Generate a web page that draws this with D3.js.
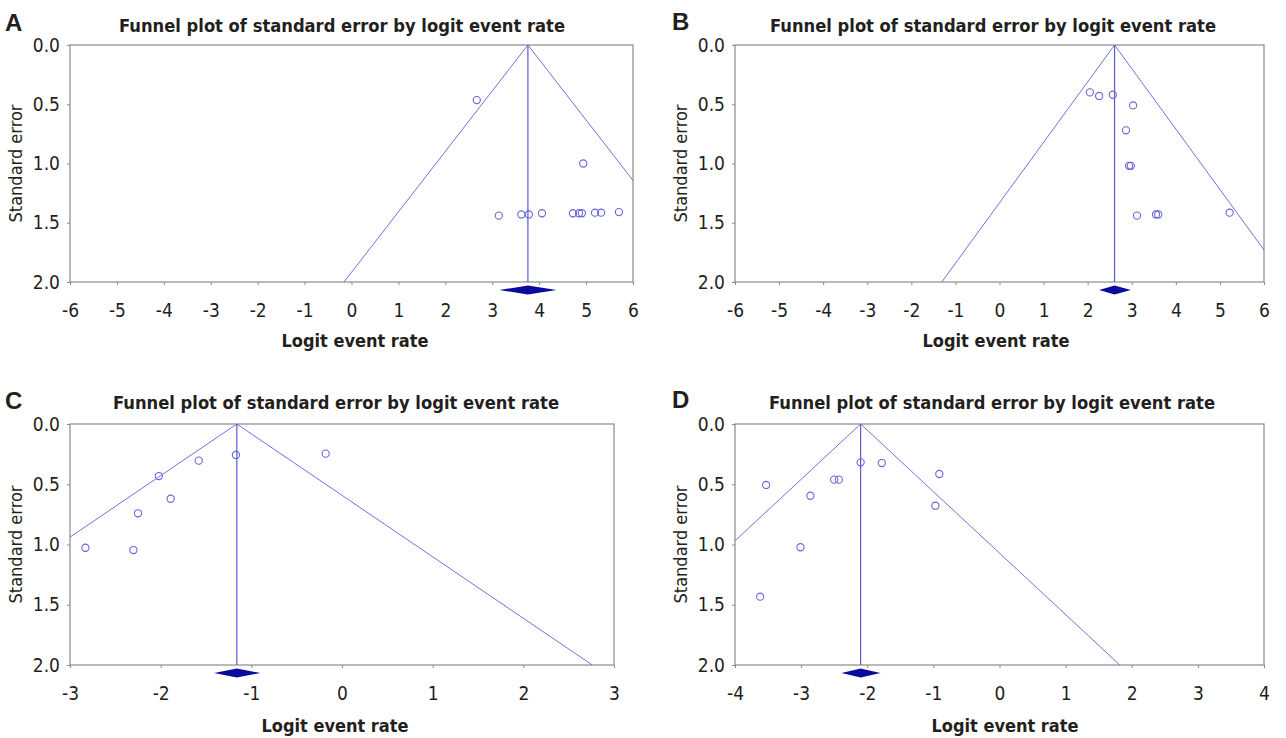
<!DOCTYPE html>
<html>
<head>
<meta charset="utf-8">
<script src="https://cdn.jsdelivr.net/npm/d3@7"></script>
<style>
  html, body { margin: 0; padding: 0; background: #fff; }
  svg { display: block; }
</style>
</head>
<body>
<svg id="chart" width="1286" height="738"></svg>
<script>
// panel data (logit event rate, standard error)
const panelLetters = ["A", "B", "C", "D"];
const chartTitle = "Funnel plot of standard error by logit event rate";
const xTitle = "Logit event rate";
const yTitle = "Standard error";

const xDomains = [[-6, 6], [-6, 6], [-3, 3], [-4, 4]];
const seTicks = [0, 0.5, 1, 1.5, 2];

// pooled estimate and its CI (the diamond)
const pooled = [3.76, 2.61, -1.16, -2.10];
const pooledLow = [3.15, 2.26, -1.41, -2.39];
const pooledHigh = [4.37, 2.98, -0.90, -1.80];

const studiesA = [
  [2.67, 0.465], [4.94, 1.00], [3.14, 1.44], [3.62, 1.43], [3.78, 1.43], [4.06, 1.42],
  [4.72, 1.42], [4.85, 1.42], [4.91, 1.42], [5.19, 1.415], [5.32, 1.415], [5.70, 1.41]
];
const studiesB = [
  [2.05, 0.40], [2.26, 0.43], [2.57, 0.42], [3.03, 0.51], [2.87, 0.72], [2.94, 1.02],
  [2.98, 1.02], [3.12, 1.44], [3.55, 1.43], [3.60, 1.43], [5.22, 1.415]
];
const studiesC = [
  [-2.83, 1.027], [-2.30, 1.046], [-2.25, 0.741], [-2.02, 0.432],
  [-1.89, 0.62], [-1.58, 0.304], [-1.17, 0.257], [-0.18, 0.246]
];
const studiesD = [
  [-3.53, 0.506], [-2.86, 0.595], [-2.50, 0.462], [-2.43, 0.462], [-2.10, 0.318],
  [-1.78, 0.324], [-0.91, 0.415], [-0.97, 0.678], [-3.01, 1.023], [-3.62, 1.433]
];
const studies = [studiesA, studiesB, studiesC, studiesD];

// layout of the four plot frames
const frames = [
  { left: 70, right: 633, top: 45, bottom: 282, letterX: 5, letterY: 31, titleX: 342, titleY: 32, xtX: 355, xtY: 347, ytX: 22 },
  { left: 735, right: 1264, top: 45, bottom: 282, letterX: 672, letterY: 30, titleX: 993, titleY: 32, xtX: 996, xtY: 347, ytX: 687 },
  { left: 70, right: 614, top: 424, bottom: 665, letterX: 5, letterY: 409, titleX: 336, titleY: 409, xtX: 335, xtY: 732, ytX: 22 },
  { left: 735, right: 1264, top: 424, bottom: 665, letterX: 672, letterY: 408, titleX: 992, titleY: 409, xtX: 1005, xtY: 732, ytX: 687 }
];

const textColor = "#231f20";
const lineColor = "#7272dc";
const meanColor = "#5a5ad2";
const dotColor = "#6666d8";
const diamondColor = "#0a0a9e";
const frameColor = "#8a8a8a";
const font = "Tahoma, 'DejaVu Sans Condensed', 'DejaVu Sans', sans-serif";

const svg = d3.select("#chart");

frames.forEach((f, i) => {
  const g = svg.append("g");
  const x = d3.scaleLinear().domain(xDomains[i]).range([f.left, f.right]);
  const y = d3.scaleLinear().domain([0, 2]).range([f.top, f.bottom]);

  // clip for funnel lines
  const clipId = "clip" + i;
  svg.append("clipPath").attr("id", clipId)
    .append("rect")
    .attr("x", f.left).attr("y", f.top)
    .attr("width", f.right - f.left).attr("height", f.bottom - f.top);

  // axes
  const xAxis = d3.axisBottom(x)
    .tickValues(d3.range(xDomains[i][0], xDomains[i][1] + 1))
    .tickFormat(d => String(d))
    .tickSize(3)
    .tickPadding(19);
  const ax = g.append("g").attr("transform", `translate(0,${f.bottom})`).call(xAxis);
  ax.select(".domain").remove();

  const yAxis = d3.axisLeft(y)
    .tickValues(seTicks)
    .tickFormat(d3.format(".1f"))
    .tickSize(3)
    .tickPadding(7);
  const ay = g.append("g").attr("transform", `translate(${f.left},0)`).call(yAxis);
  ay.select(".domain").remove();

  [ax, ay].forEach(a => {
    a.selectAll(".tick line").attr("stroke", frameColor);
    a.selectAll(".tick text")
      .attr("fill", textColor)
      .style("font-family", font)
      .style("font-size", "19px");
  });

  // frame
  g.append("rect")
    .attr("x", f.left).attr("y", f.top)
    .attr("width", f.right - f.left).attr("height", f.bottom - f.top)
    .attr("fill", "none")
    .attr("stroke", frameColor)
    .attr("stroke-width", 1.2);

  // funnel (95% pseudo limits)
  const m = pooled[i];
  const funnel = [[m - 1.96 * 2, 2], [m, 0], [m + 1.96 * 2, 2]];
  g.append("path")
    .attr("clip-path", `url(#${clipId})`)
    .attr("d", d3.line().x(d => x(d[0])).y(d => y(d[1]))(funnel))
    .attr("fill", "none")
    .attr("stroke", lineColor)
    .attr("stroke-width", 1);

  // pooled mean line
  g.append("line")
    .attr("x1", x(m)).attr("x2", x(m))
    .attr("y1", y(0)).attr("y2", y(2))
    .attr("stroke", meanColor)
    .attr("stroke-width", 1.2);

  // studies
  g.selectAll("circle.study")
    .data(studies[i])
    .enter()
    .append("circle")
    .attr("class", "study")
    .attr("cx", d => x(d[0]))
    .attr("cy", d => y(d[1]))
    .attr("r", 3.6)
    .attr("fill", "none")
    .attr("stroke", dotColor)
    .attr("stroke-width", 1.1);

  // diamond under the axis
  const dy = f.bottom + 8;
  const dh = 4.5;
  g.append("path")
    .attr("d", `M${x(pooledLow[i])},${dy}L${x(m)},${dy - dh}L${x(pooledHigh[i])},${dy}L${x(m)},${dy + dh}Z`)
    .attr("fill", diamondColor);

  // texts
  g.append("text")
    .attr("x", f.letterX).attr("y", f.letterY)
    .text(panelLetters[i])
    .attr("fill", textColor)
    .style("font-family", "'Liberation Sans', Arial, sans-serif")
    .style("font-weight", "bold")
    .style("font-size", "24px");

  g.append("text")
    .attr("x", f.titleX).attr("y", f.titleY)
    .attr("text-anchor", "middle")
    .attr("textLength", 446)
    .attr("lengthAdjust", "spacingAndGlyphs")
    .text(chartTitle)
    .attr("fill", textColor)
    .style("font-family", font)
    .style("font-weight", "bold")
    .style("font-size", "17px");

  g.append("text")
    .attr("x", f.xtX).attr("y", f.xtY)
    .attr("text-anchor", "middle")
    .attr("textLength", 147)
    .attr("lengthAdjust", "spacingAndGlyphs")
    .text(xTitle)
    .attr("fill", textColor)
    .style("font-family", font)
    .style("font-weight", "bold")
    .style("font-size", "18px");

  const cy = (f.top + f.bottom) / 2;
  g.append("text")
    .attr("transform", `translate(${f.ytX},${cy}) rotate(-90)`)
    .attr("text-anchor", "middle")
    .attr("textLength", 118)
    .attr("lengthAdjust", "spacingAndGlyphs")
    .text(yTitle)
    .attr("fill", textColor)
    .style("font-family", font)
    .style("font-size", "17px");
});
</script>
</body>
</html>
